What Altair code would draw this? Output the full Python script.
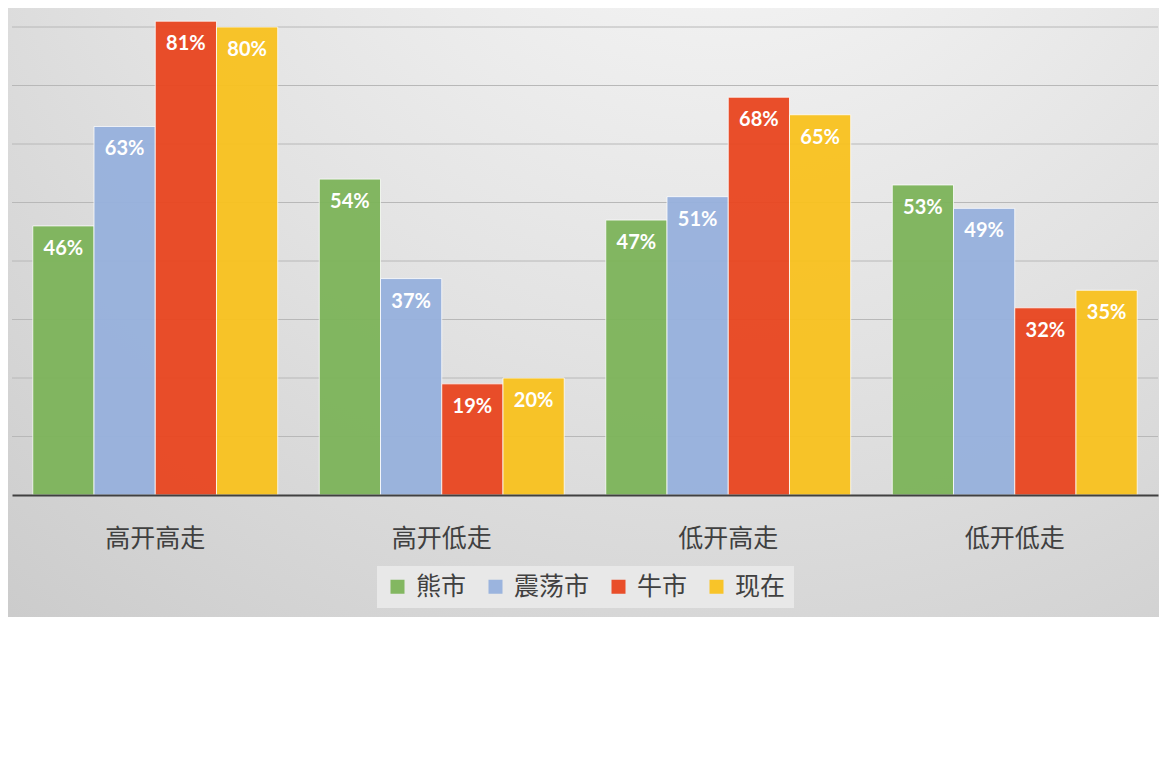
import altair as alt
import pandas as pd

# Data
categories = ["高开高走", "高开低走", "低开高走", "低开低走"]
series = ["熊市", "震荡市", "牛市", "现在"]
bear = [46, 54, 47, 53]
range_bound = [63, 37, 51, 49]
bull = [81, 19, 68, 32]
now = [80, 20, 65, 35]
grid_values = [10, 20, 30, 40, 50, 60, 70, 80]
colors = ["#7db45a", "#97b1dd", "#e94620", "#f9c21f"]

rows = []
for s, vals in zip(series, [bear, range_bound, bull, now]):
    for c, v in zip(categories, vals):
        rows.append({"category": c, "series": s, "value": v / 100})
df = pd.DataFrame(rows)
grid_df = pd.DataFrame({"grid": [g / 100 for g in grid_values]})

W, H = 1146, 487
y_scale = alt.Scale(domain=[0, 0.8325], nice=False, zero=True)
cjk = "Noto Sans CJK SC"

# Radial grey background panel, like the Excel chart area
bg_fill = alt.RadialGradient(
    gradient="radial",
    x1=0.62, y1=0.0, r1=0.0,
    x2=0.62, y2=0.0, r2=1.0,
    stops=[alt.GradientStop(offset=0, color="#fbfbfb"),
           alt.GradientStop(offset=0.55, color="#e2e2e2"),
           alt.GradientStop(offset=1, color="#cbcbcb")],
)
background = alt.Chart(pd.DataFrame({"bg": [0]})).mark_rect(fill=bg_fill).encode(
    x=alt.value(-4), x2=alt.value(1147), y=alt.value(0), y2=alt.value(609)
)

gridlines = alt.Chart(grid_df).mark_rule(color="#b8b8b8", strokeWidth=1).encode(
    y=alt.Y("grid:Q", scale=y_scale, axis=None)
)

x_enc = alt.X("category:N", sort=categories, title=None,
              scale=alt.Scale(paddingInner=0.145, paddingOuter=0.0725),
              axis=alt.Axis(labelFont=cjk, labelFontSize=25, labelColor="#404040",
                            labelAngle=0, labelPadding=31, ticks=False,
                            domainColor="#404040", domainWidth=2, grid=False,
                            zindex=1))
offset_enc = alt.XOffset("series:N", sort=series,
                         scale=alt.Scale(paddingInner=0, paddingOuter=0))

bars = alt.Chart(df).mark_bar(stroke="white", strokeWidth=1, strokeOpacity=0.8,
                              opacity=0.95).encode(
    x=x_enc,
    xOffset=offset_enc,
    y=alt.Y("value:Q", scale=y_scale, axis=None),
    color=alt.Color("series:N", sort=series,
                    scale=alt.Scale(domain=series, range=colors),
                    legend=alt.Legend(orient="none", legendX=365, legendY=558,
                                      direction="horizontal", columns=4, title=None,
                                      symbolType="square", symbolSize=196,
                                      symbolStrokeWidth=0, labelFont=cjk,
                                      labelFontSize=25, labelColor="#404040",
                                      labelOffset=6, columnPadding=16,
                                      padding=8, fillColor="#e8e8e8",
                                      zindex=1)),
)

labels = alt.Chart(df).mark_text(color="white", font="Lato", fontWeight="bold",
                                 fontSize=20, baseline="middle", dy=23).encode(
    x=alt.X("category:N", sort=categories),
    xOffset=alt.XOffset("series:N", sort=series),
    y=alt.Y("value:Q", scale=y_scale),
    text=alt.Text("value:Q", format=".0%"),
)

chart = alt.layer(background, gridlines, bars, labels).properties(
    width=W, height=H, padding=0, background="white"
).configure_view(stroke=None)

chart.save("out.html", embed_options={"renderer": "svg", "actions": False})
